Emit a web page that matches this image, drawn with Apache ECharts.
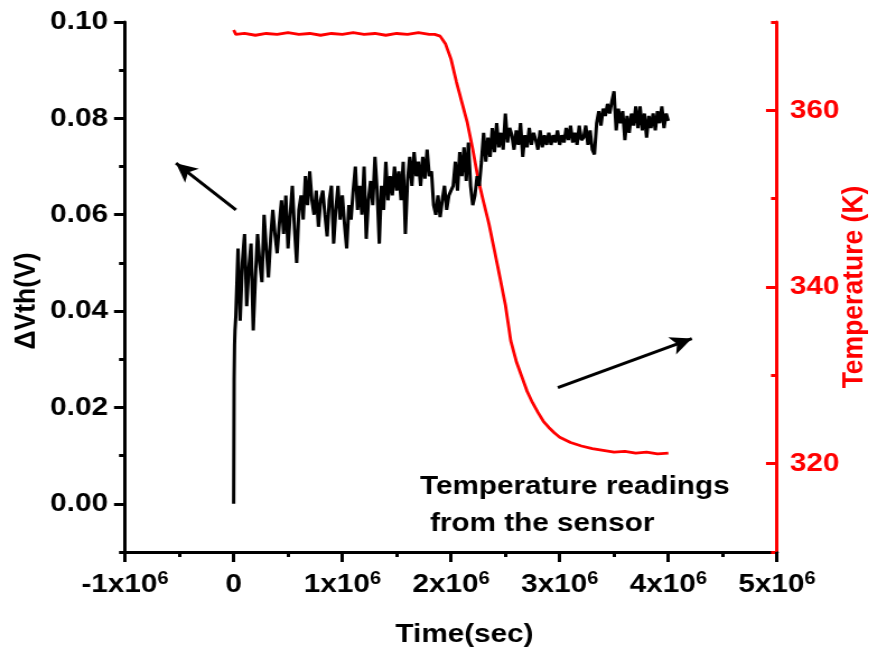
<!DOCTYPE html>
<html><head><meta charset="utf-8">
<script src="https://cdn.jsdelivr.net/npm/echarts@6/dist/echarts.min.js"></script>
<style>
html,body{margin:0;padding:0;background:#fff;overflow:hidden}
#wrap{width:869px;height:656px;overflow:hidden}
#c{width:776px;height:656px;transform:scaleX(1.12);transform-origin:0 0}
</style>
</head><body><div id="wrap"><div id="c"></div></div>
<script>
// ---- data (time in units of 10^6 s) ----
const vthHeadTime  = [0, 0.004, 0.008, 0.012];
const vthHeadValue = [0.000, 0.026, 0.033, 0.036];
const vthStartTime = 0.02;
const vthStep = 0.02;
const vthValues = [
  0.039, 0.053, 0.038, 0.050, 0.056, 0.041, 0.049, 0.054, 0.036, 0.047,
  0.056, 0.050, 0.046, 0.060, 0.053, 0.047, 0.055, 0.061, 0.056, 0.052,
  0.058, 0.063, 0.056, 0.064, 0.053, 0.060, 0.066, 0.057, 0.050, 0.061,
  0.064, 0.059, 0.068, 0.062, 0.069, 0.063, 0.060, 0.065, 0.0575, 0.063,
  0.065, 0.060, 0.0555, 0.063, 0.066, 0.054, 0.061, 0.066, 0.059, 0.064,
  0.058, 0.053, 0.062, 0.059, 0.065, 0.070, 0.061, 0.066, 0.060, 0.070,
  0.055, 0.063, 0.067, 0.062, 0.072, 0.065, 0.054, 0.066, 0.061, 0.071,
  0.063, 0.068, 0.064, 0.070, 0.065, 0.069, 0.063, 0.071, 0.056, 0.067,
  0.072, 0.066, 0.073, 0.068, 0.071, 0.066, 0.072, 0.0675, 0.0735, 0.068,
  0.069, 0.062, 0.060, 0.064, 0.0595, 0.063, 0.066, 0.061, 0.064, 0.065,
  0.066, 0.071, 0.065, 0.073, 0.068, 0.074, 0.067, 0.075, 0.066, 0.062,
  0.064, 0.068, 0.066, 0.071, 0.077, 0.071, 0.076, 0.072, 0.078, 0.073,
  0.079, 0.074, 0.077, 0.0735, 0.081, 0.075, 0.078, 0.0765, 0.0735, 0.0775,
  0.0745, 0.079, 0.072, 0.0765, 0.074, 0.078, 0.0745, 0.077, 0.0755, 0.0735,
  0.0775, 0.074, 0.0765, 0.0745, 0.077, 0.0745, 0.0765, 0.075, 0.0775, 0.0745,
  0.0765, 0.075, 0.078, 0.0755, 0.0785, 0.075, 0.077, 0.0745, 0.0785, 0.0755,
  0.076, 0.0785, 0.0745, 0.0775, 0.0735, 0.0725, 0.079, 0.0815, 0.0785, 0.082,
  0.0805, 0.083, 0.081, 0.0835, 0.0856, 0.0775, 0.082, 0.079, 0.0815, 0.0755,
  0.0805, 0.077, 0.081, 0.0785, 0.0825, 0.078, 0.0825, 0.0775, 0.081, 0.076,
  0.0805, 0.078, 0.081, 0.0775, 0.0815, 0.079, 0.0825, 0.078, 0.081, 0.0795
];
const tempTime = [
  0.00, 0.02, 0.10, 0.20, 0.30, 0.40, 0.50, 0.60, 0.70, 0.80, 0.90,
  1.00, 1.10, 1.20, 1.30, 1.40, 1.50, 1.60, 1.70, 1.80, 1.85,
  1.90, 1.95, 2.00, 2.05, 2.10, 2.15, 2.20, 2.25, 2.30, 2.35,
  2.40, 2.45, 2.50, 2.55, 2.60, 2.65, 2.70, 2.75, 2.80, 2.85,
  2.90, 2.95, 3.00, 3.10, 3.20, 3.30, 3.40, 3.50, 3.60, 3.70,
  3.80, 3.90, 4.00
];
const tempValue = [
  369.1, 368.6, 368.7, 368.5, 368.7, 368.6, 368.8, 368.6, 368.7, 368.5, 368.7,
  368.6, 368.8, 368.6, 368.7, 368.5, 368.7, 368.6, 368.8, 368.6, 368.6,
  368.4, 367.5, 365.8, 363.2, 360.9, 358.6, 355.6, 352.2, 349.6, 347.1,
  344.1, 341.1, 338.0, 333.9, 331.6, 329.9, 328.2, 326.9, 325.8, 324.8,
  324.1, 323.5, 323.0, 322.4, 322.0, 321.7, 321.5, 321.3, 321.4, 321.2,
  321.3, 321.1, 321.2
];
const leftMajorTicks = [0, 0.02, 0.04, 0.06, 0.08, 0.10];
const leftMinorTicks = [-0.01, 0.01, 0.03, 0.05, 0.07, 0.09];
const rightMajorTicks = [320, 340, 360];
const rightMinorTicks = [310, 330, 350, 370];
// annotation arrows in data coordinates [time(1e6 s), value on left axis]
const arrowFrom1 = [0.021, 0.0610], arrowTo1 = [-0.531, 0.0707];
const arrowFrom2 = [2.983, 0.0241], arrowTo2 = [4.216, 0.0343];
const noteLine1 = 'Temperature readings';
const noteLine2 = 'from the sensor';

// ---- build ----
const SX = 1.12;          // horizontal stretch applied by CSS
const W = 776, H = 656;   // drawing size before stretch
const FONT = '"Liberation Sans", Arial, Helvetica, sans-serif';
const FS = 26.5;
const vthData = [];
for (let i = 0; i < vthHeadTime.length; i++) vthData.push([vthHeadTime[i] * 1e6, vthHeadValue[i]]);
for (let i = 0; i < vthValues.length; i++) vthData.push([(vthStartTime + i * vthStep) * 1e6, vthValues[i]]);
const tempData = tempTime.map((t, i) => [t * 1e6, tempValue[i]]);

const chart = echarts.init(document.getElementById('c'), null, {renderer: 'canvas', width: W, height: H});

const baseText = {fontFamily: FONT, fontWeight: 'bold', fontSize: FS, color: '#000'};

function fmtX(v) {
  const n = Math.round(v / 1e6);
  if (n === 0) return '{m|0}';
  return '{m|' + n + 'x10}{s|6}';
}

const option = {
  animation: false,
  backgroundColor: '#fff',
  grid: {left: 125 / SX, right: W - 777 / SX, top: 22, bottom: 104, containLabel: false, outerBoundsMode: 'none'},
  xAxis: {
    type: 'value', min: -1e6, max: 5e6, interval: 1e6,
    name: 'Time(sec)', nameLocation: 'middle', nameGap: 69, nameMoveOverlap: false,
    nameTextStyle: Object.assign({}, baseText, {padding: [0, 0, 0, 24]}),
    axisLine: {show: true, onZero: false, lineStyle: {color: '#000', width: 3}},
    axisTick: {show: true, inside: false, length: 10, lineStyle: {color: '#000', width: 3}},
    minorTick: {show: true, splitNumber: 2, length: 5, lineStyle: {color: '#000', width: 3}},
    splitLine: {show: false}, minorSplitLine: {show: false},
    axisLabel: {
      margin: 18, showMinLabel: true, showMaxLabel: true, hideOverlap: false,
      formatter: fmtX,
      rich: {
        m: {fontFamily: FONT, fontWeight: 'bold', fontSize: FS, color: '#000', lineHeight: 30},
        s: {fontFamily: FONT, fontWeight: 'bold', fontSize: 18, color: '#000', lineHeight: 16, verticalAlign: 'top'}
      }
    }
  },
  yAxis: [
    {
      type: 'value', position: 'left', min: -0.01, max: 0.10,
      name: 'ΔVth(V)', nameLocation: 'middle', nameGap: 74, nameMoveOverlap: false,
      nameTextStyle: Object.assign({}, baseText, {padding: [0, 28, 0, 0]}),
      axisLine: {show: true, onZero: false, lineStyle: {color: '#000', width: 3}},
      axisTick: {show: true, inside: false, length: 11 / SX, customValues: leftMajorTicks, lineStyle: {color: '#000', width: 3}},
      axisLabel: Object.assign({}, baseText, {margin: 17 / SX, customValues: leftMajorTicks, formatter: v => v.toFixed(2)}),
      splitLine: {show: false}
    },
    {
      type: 'value', position: 'left', min: -0.01, max: 0.10,
      axisLine: {show: false, onZero: false},
      axisTick: {show: true, inside: false, length: 6 / SX, customValues: leftMinorTicks, lineStyle: {color: '#000', width: 3}},
      axisLabel: {show: false, customValues: leftMinorTicks},
      splitLine: {show: false}
    },
    {
      type: 'value', position: 'right', min: 310, max: 370,
      name: 'Temperature (K)', nameLocation: 'middle', nameGap: 55, nameMoveOverlap: false,
      nameTextStyle: Object.assign({}, baseText, {color: '#ff0000'}),
      axisLine: {show: true, onZero: false, lineStyle: {color: '#ff0000', width: 3}},
      axisTick: {show: true, inside: true, length: 11 / SX, customValues: rightMajorTicks, lineStyle: {color: '#ff0000', width: 3}},
      axisLabel: Object.assign({}, baseText, {color: '#ff0000', margin: 13 / SX, customValues: rightMajorTicks}),
      splitLine: {show: false}
    },
    {
      type: 'value', position: 'right', min: 310, max: 370,
      axisLine: {show: false, onZero: false},
      axisTick: {show: true, inside: true, length: 6 / SX, customValues: rightMinorTicks, lineStyle: {color: '#ff0000', width: 3}},
      axisLabel: {show: false, customValues: rightMinorTicks},
      splitLine: {show: false}
    }
  ],
  series: [
    {
      name: 'ΔVth', type: 'line', xAxisIndex: 0, yAxisIndex: 0, data: vthData,
      showSymbol: false, symbol: 'none', smooth: false,
      lineStyle: {color: '#000', width: 3}, z: 3,
      markLine: {
        silent: true, animation: false,
        symbol: ['none', 'arrow'], symbolSize: [14, 19],
        label: {show: false},
        lineStyle: {color: '#000', width: 3, type: 'solid'},
        emphasis: {disabled: true},
        data: [
          [{coord: [arrowFrom1[0] * 1e6, arrowFrom1[1]]}, {coord: [arrowTo1[0] * 1e6, arrowTo1[1]]}],
          [{coord: [arrowFrom2[0] * 1e6, arrowFrom2[1]]}, {coord: [arrowTo2[0] * 1e6, arrowTo2[1]]}]
        ]
      }
    },
    {
      name: 'Temperature', type: 'line', xAxisIndex: 0, yAxisIndex: 2, data: tempData,
      showSymbol: false, symbol: 'none', smooth: false,
      lineStyle: {color: '#ff0000', width: 2.8}, z: 2
    }
  ],
  graphic: [
    {type: 'text', x: 420 / SX, y: 487, style: {text: noteLine1, font: 'bold ' + FS + 'px ' + FONT, fill: '#000', textVerticalAlign: 'middle'}},
    {type: 'text', x: 430 / SX, y: 524, style: {text: noteLine2, font: 'bold ' + FS + 'px ' + FONT, fill: '#000', textVerticalAlign: 'middle'}}
  ]
};
chart.setOption(option);
</script>
</body></html>
